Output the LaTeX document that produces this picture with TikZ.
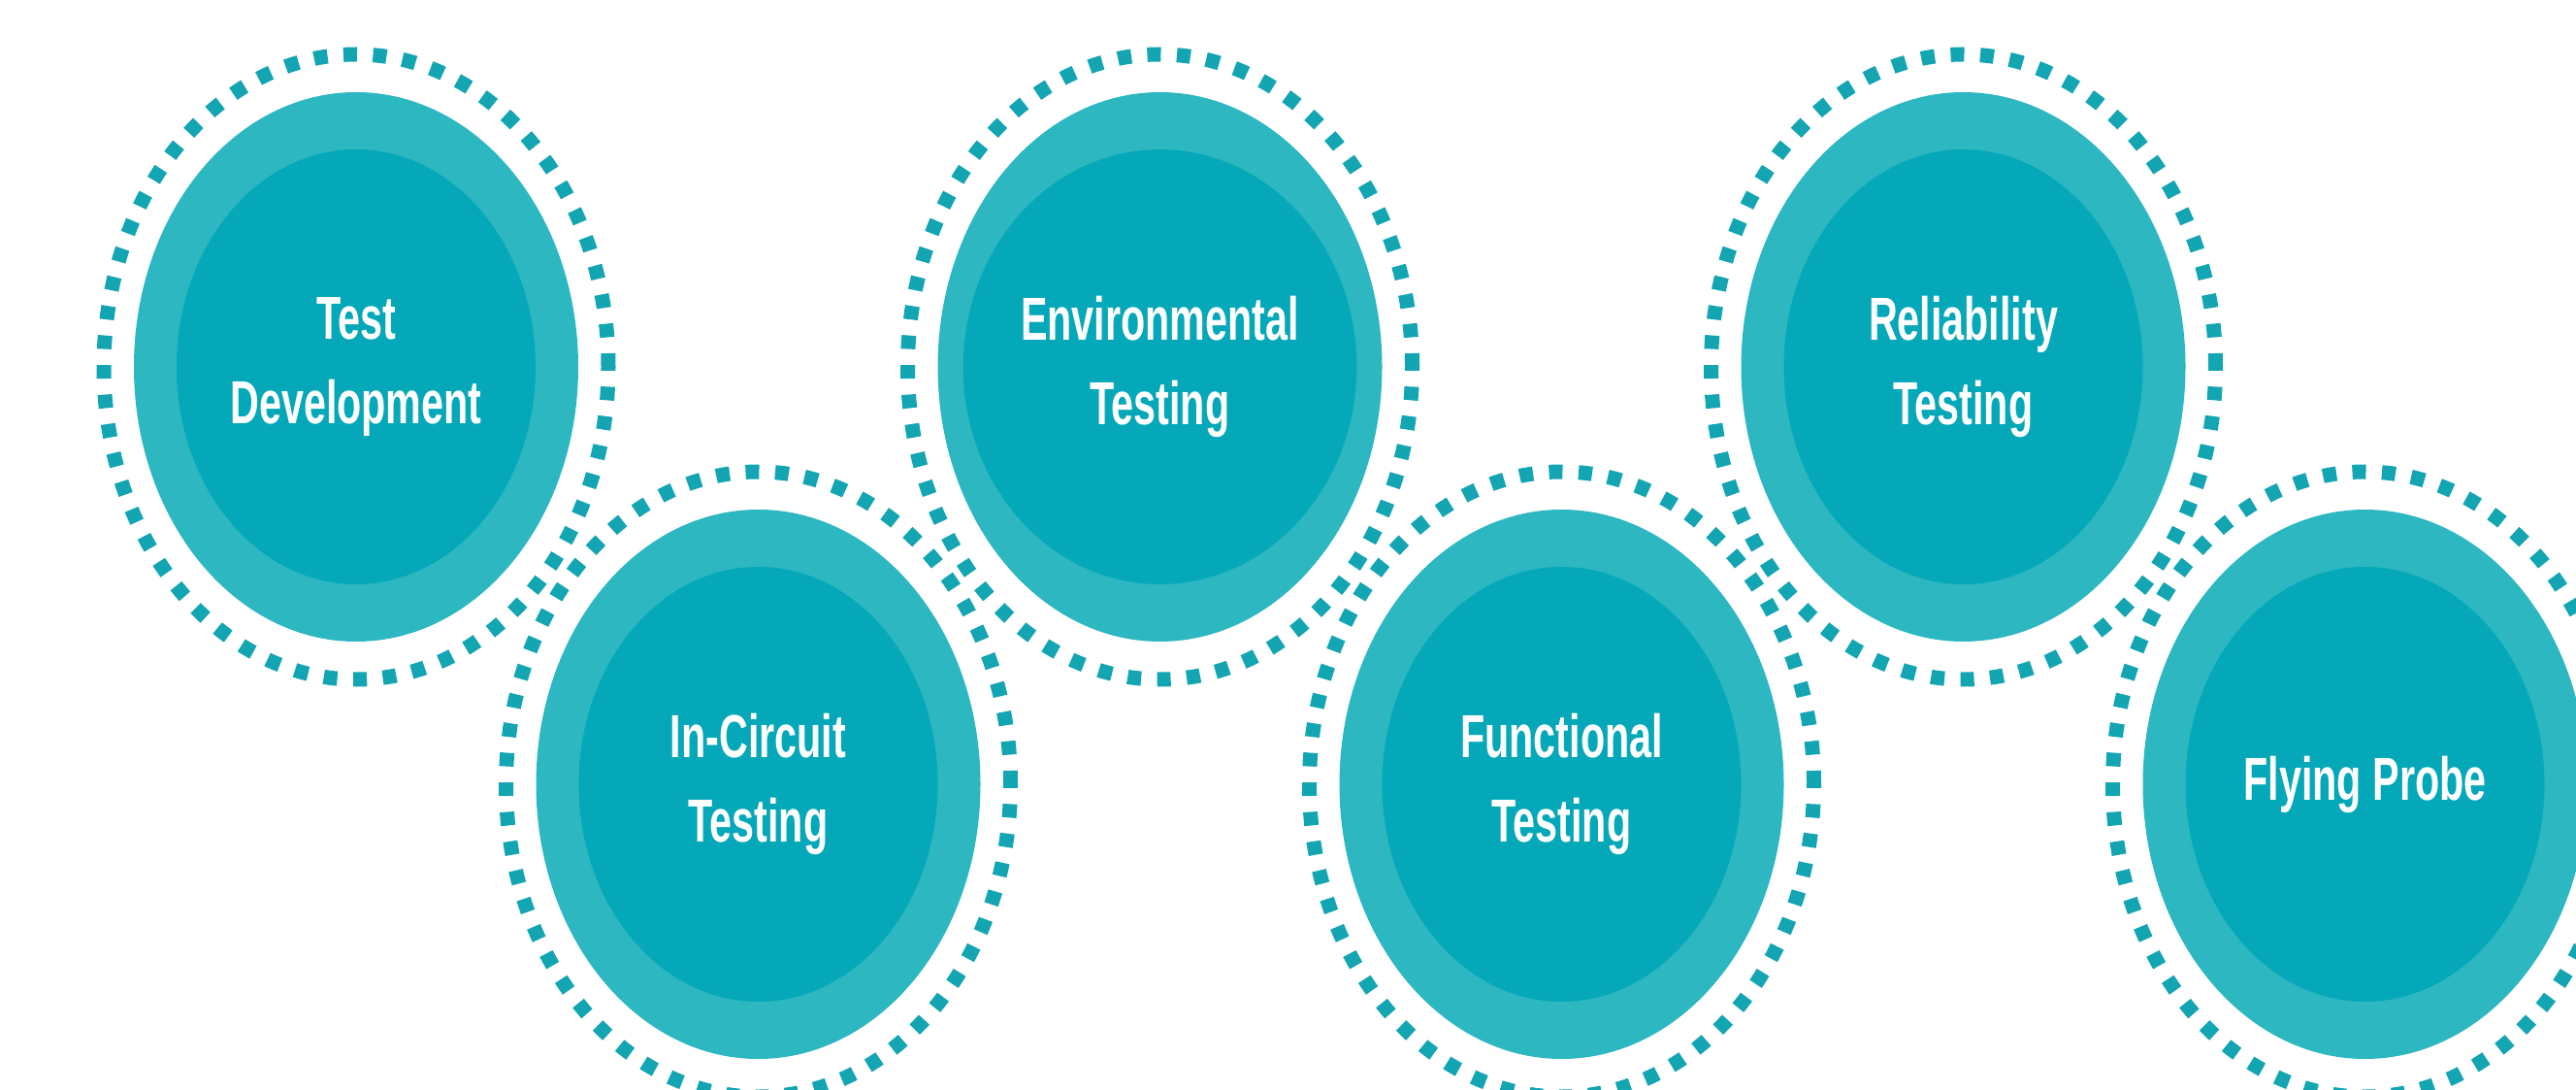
\documentclass[tikz,border=0pt]{standalone}
\usepackage{fontspec}
\newfontfamily\labelfont[FakeStretch=0.66]{Liberation Sans}
\usetikzlibrary{shapes.geometric,
	positioning
}
\definecolor{ringdash}{RGB}{20,165,178}
\definecolor{ringfill}{RGB}{44,183,193}
\definecolor{corefill}{RGB}{4,168,184}
\tikzset{
	ring/.style={ellipse, draw=ringdash, line width=0.15cm, dash pattern=on 0.14cm off 0.165cm, minimum width=5.2cm, minimum height=6.44cm, inner sep=0pt},
	disc/.style={ellipse, fill=ringfill, minimum width=4.58cm, minimum height=5.66cm, inner sep=0pt},
	core/.style={ellipse, fill=corefill, minimum width=3.7cm, minimum height=4.48cm, inner sep=0pt, text=white, align=center, font=\labelfont\bfseries\fontsize{17.8}{24.8}\selectfont},
}

\begin{document}
\begin{tikzpicture}

\useasboundingbox (0,0) rectangle (26.55,11.22);
\clip (0,0) rectangle (26.55,11.22);

% dashed rings

\node[ring] (r1) at (3.67,7.44) {};
\node[ring] (r2) at (7.815,3.14) {};
\node[ring] (r3) at (11.955,7.44) {};
\node[ring] (r4) at (16.095,3.14) {};
\node[ring] (r5) at (20.235,7.44) {};
\node[ring] (r6) at (24.375,3.14) {};

% discs

\node[disc] (d1) at (r1) {};
\node[disc] (d2) at (r2) {};
\node[disc] (d3) at (r3) {};
\node[disc] (d4) at (r4) {};
\node[disc] (d5) at (r5) {};
\node[disc] (d6) at (r6) {};

% labels

\node[core] (n1) at (d1) {Test\\Development};
\node[core] (n2) at (d2) {In-Circuit\\Testing};
\node[core] (n3) at (d3) {Environmental\\Testing};
\node[core] (n4) at (d4) {Functional\\Testing};
\node[core] (n5) at (d5) {Reliability\\Testing};
\node[core] (n6) at (d6) {Flying Probe};

\end{tikzpicture}
\end{document}
